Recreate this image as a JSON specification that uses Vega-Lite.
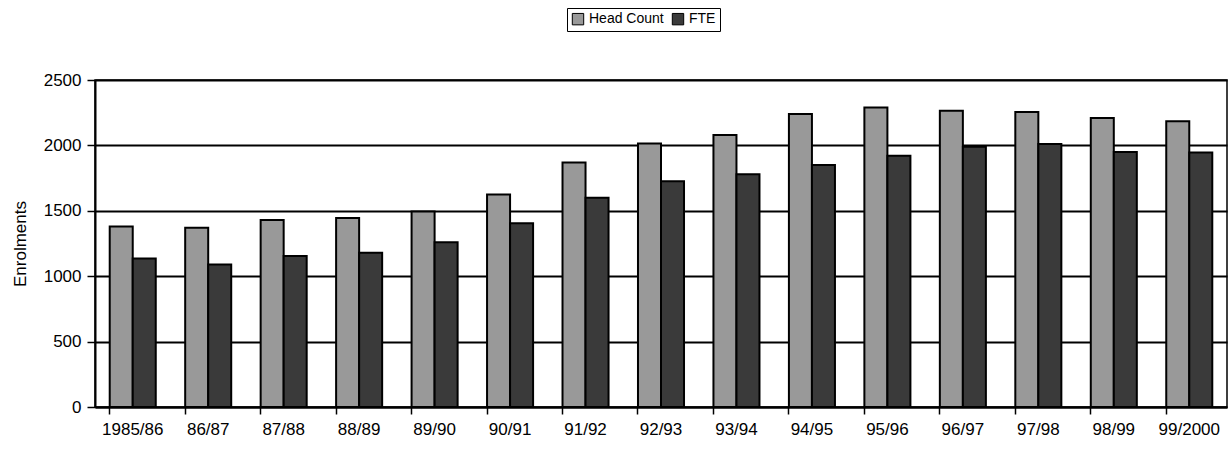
{
  "$schema": "https://vega.github.io/schema/vega-lite/v6.json",
  "autosize": {"type": "none"},
  "width": 1132,
  "height": 327,
  "padding": {"left": 95, "top": 80, "right": 4, "bottom": 44},
  "background": "white",
  "config": {
    "font": "Liberation Sans",
    "view": {"stroke": "black", "strokeWidth": 1.5},
    "axis": {"labelFont": "Liberation Sans", "titleFont": "Liberation Sans"}
  },
  "data": {
    "values": [
      {"year": "1985/86", "series": "Head Count", "value": 1380},
      {"year": "1985/86", "series": "FTE", "value": 1135},
      {"year": "86/87", "series": "Head Count", "value": 1370},
      {"year": "86/87", "series": "FTE", "value": 1090},
      {"year": "87/88", "series": "Head Count", "value": 1430},
      {"year": "87/88", "series": "FTE", "value": 1155},
      {"year": "88/89", "series": "Head Count", "value": 1445},
      {"year": "88/89", "series": "FTE", "value": 1180},
      {"year": "89/90", "series": "Head Count", "value": 1495},
      {"year": "89/90", "series": "FTE", "value": 1260},
      {"year": "90/91", "series": "Head Count", "value": 1625},
      {"year": "90/91", "series": "FTE", "value": 1405},
      {"year": "91/92", "series": "Head Count", "value": 1870},
      {"year": "91/92", "series": "FTE", "value": 1600},
      {"year": "92/93", "series": "Head Count", "value": 2015},
      {"year": "92/93", "series": "FTE", "value": 1725},
      {"year": "93/94", "series": "Head Count", "value": 2080},
      {"year": "93/94", "series": "FTE", "value": 1780},
      {"year": "94/95", "series": "Head Count", "value": 2240},
      {"year": "94/95", "series": "FTE", "value": 1850},
      {"year": "95/96", "series": "Head Count", "value": 2290},
      {"year": "95/96", "series": "FTE", "value": 1920},
      {"year": "96/97", "series": "Head Count", "value": 2265},
      {"year": "96/97", "series": "FTE", "value": 1990},
      {"year": "97/98", "series": "Head Count", "value": 2255},
      {"year": "97/98", "series": "FTE", "value": 2010},
      {"year": "98/99", "series": "Head Count", "value": 2210},
      {"year": "98/99", "series": "FTE", "value": 1950},
      {"year": "99/2000", "series": "Head Count", "value": 2185},
      {"year": "99/2000", "series": "FTE", "value": 1945}
    ]
  },
  "mark": {"type": "bar", "stroke": "black", "strokeWidth": 2},
  "encoding": {
    "x": {
      "field": "year",
      "type": "nominal",
      "sort": null,
      "scale": {"paddingInner": 0.39, "paddingOuter": 0.195},
      "axis": {
        "title": null,
        "labelAngle": 0,
        "labelFontSize": 17,
        "labelColor": "black",
        "labelPadding": 7,
        "bandPosition": 0,
        "tickSize": 7,
        "tickColor": "black",
        "tickWidth": 1.5,
        "domainColor": "black",
        "domainWidth": 2,
        "grid": false
      }
    },
    "xOffset": {
      "field": "series",
      "type": "nominal",
      "scale": {"domain": ["Head Count", "FTE"], "paddingInner": 0, "paddingOuter": 0}
    },
    "y": {
      "field": "value",
      "type": "quantitative",
      "scale": {"domain": [0, 2500], "nice": false},
      "axis": {
        "title": "Enrolments",
        "titleFontSize": 17,
        "titleFontWeight": "normal",
        "titleColor": "black",
        "titlePadding": 14,
        "values": [0, 500, 1000, 1500, 2000, 2500],
        "format": "d",
        "labelFontSize": 17,
        "labelColor": "black",
        "labelPadding": 6,
        "tickSize": 8,
        "tickColor": "black",
        "tickWidth": 1.5,
        "domainColor": "black",
        "domainWidth": 2,
        "grid": true,
        "gridColor": "black",
        "gridWidth": 2,
        "gridOpacity": 1
      }
    },
    "fill": {
      "field": "series",
      "type": "nominal",
      "scale": {"domain": ["Head Count", "FTE"], "range": ["#999999", "#3a3a3a"]},
      "legend": {
        "title": null,
        "orient": "none",
        "legendX": 472,
        "legendY": -72,
        "direction": "horizontal",
        "symbolType": "square",
        "symbolSize": 130,
        "symbolStrokeColor": "black",
        "symbolStrokeWidth": 1,
        "labelFontSize": 14,
        "labelColor": "black",
        "labelOffset": 4,
        "columnPadding": 6,
        "padding": 4,
        "strokeColor": "black"
      }
    }
  }
}
